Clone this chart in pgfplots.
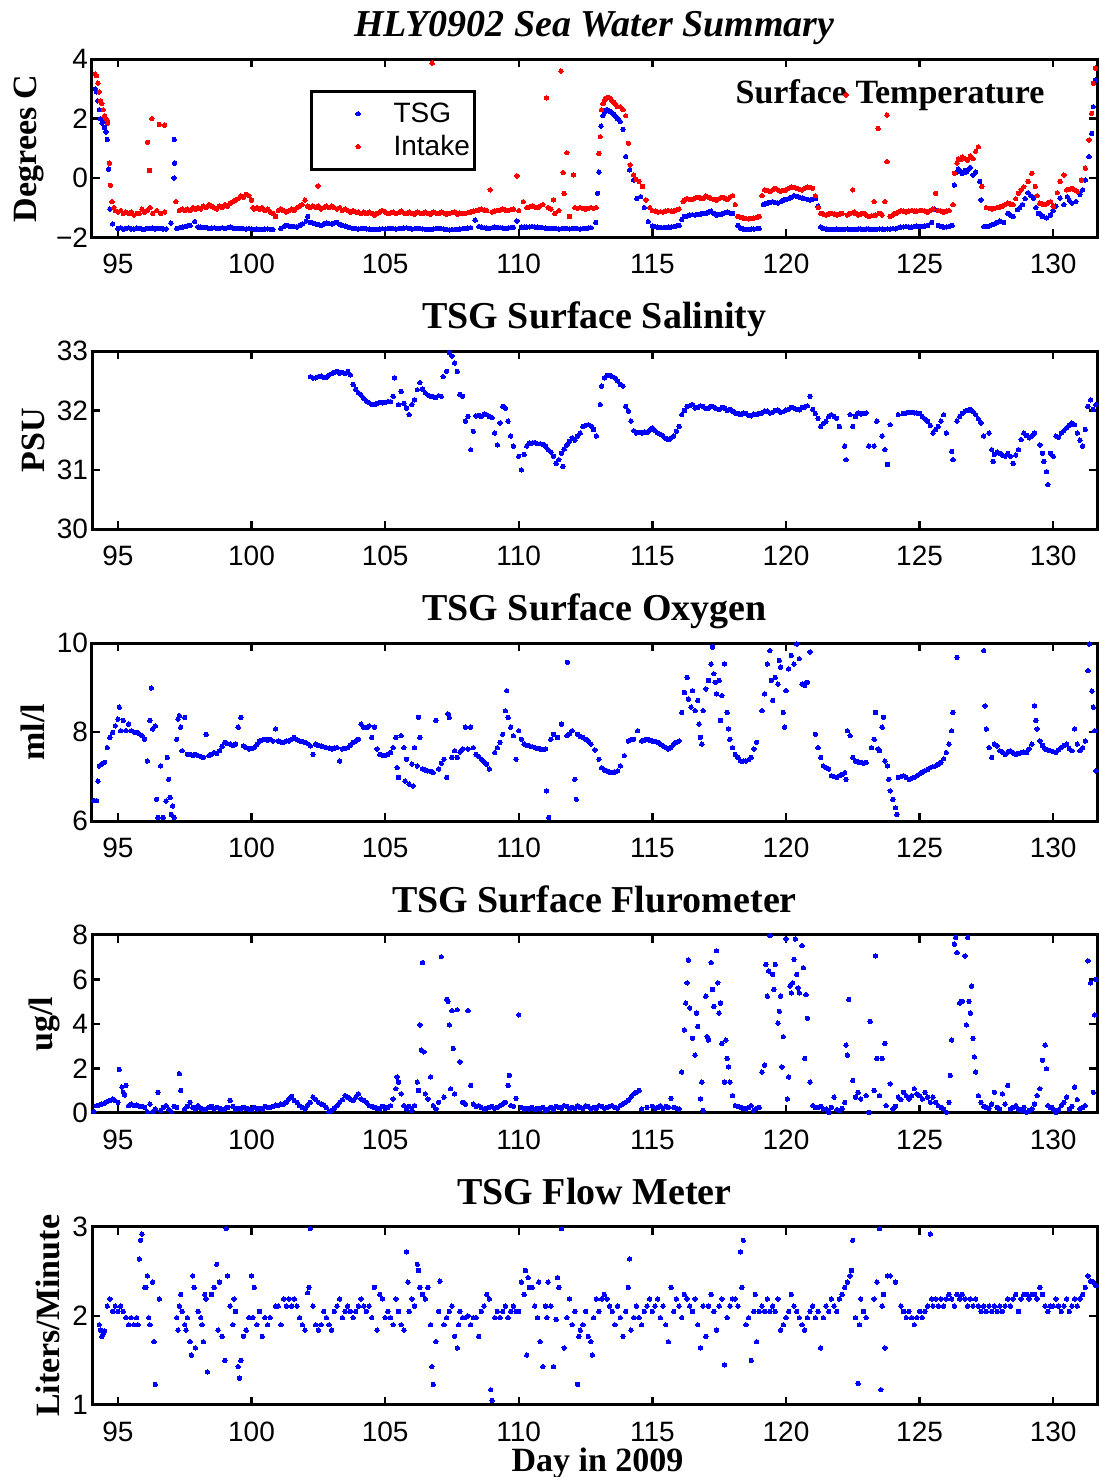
\documentclass[border=0pt]{standalone}
\usepackage{fontspec}
\usepackage{pgfplots}
\pgfplotsset{compat=1.18}
\setmainfont{Liberation Serif}
\newfontfamily\tickfont{Liberation Sans}
\definecolor{tsgblue}{RGB}{0,0,255}
\definecolor{intakered}{RGB}{255,0,0}

\pgfplotsset{
  panel/.style={
    scale only axis, width=502.5pt, height=89pt,
    xmin=94.03, xmax=131.64,
    xtick={95,100,...,130},
    axis line style={line width=1.5pt},
    tick style={black, line width=1.2pt},
    major tick length=4pt,
    tick align=inside,
    ticklabel style={font=\fontsize{14}{16}\selectfont\tickfont},
    /pgf/number format/assume math mode=true,
    xticklabel style={yshift=-5pt},
    yticklabel style={xshift=1.5pt},
    title style={font=\fontsize{19}{22}\selectfont\bfseries, at={(0.5,1)}, anchor=base, yshift=5.3pt},
    ylabel style={font=\fontsize{17}{20}\selectfont\bfseries, inner sep=2.5pt},
  },
  dots/.style={only marks, mark=*, mark size=1.1pt, color=#1, mark options={line width=0pt}},
}

\begin{document}
\begin{tikzpicture}
\useasboundingbox (0,0) rectangle (549.5pt,738.5pt);

% ---------- surface temperature ----------
\begin{axis}[panel, at={(46pt,619.85pt)}, anchor=south west,
  ymin=-2, ymax=4, ytick={-2,0,2,4}, yticklabels={−2,0,2,4},
  title={\itshape HLY0902 Sea Water Summary},
  ylabel={Degrees C},
  legend style={at={(0.217,0.8275)}, anchor=north west, draw=black, line width=1.5pt,
    font=\fontsize{14}{16}\selectfont\tickfont, inner xsep=0pt, inner ysep=3pt,
    nodes={inner sep=2.5pt}, row sep=0pt, column sep=0pt, cells={anchor=west}},
  legend image code/.code={\path (0pt,0pt) (37pt,0pt); \draw[#1, line width=0pt] plot coordinates {(22.5pt,0pt)};},
]
\addplot[dots=tsgblue] coordinates {
(94.15,3.0)(94.2,2.9)(94.25,2.6)(94.3,2.3)(94.35,2.0)(94.4,1.85)(94.45,1.9)(94.5,1.7)(94.55,1.55)(94.6,1.3)(94.65,0.3)(94.7,-1.05)(94.8,-1.55)
(95.0,-1.7)(95.1,-1.68)(95.2,-1.73)(95.3,-1.7)(95.4,-1.68)(95.5,-1.72)(95.6,-1.72)(95.7,-1.69)(95.8,-1.7)(95.9,-1.72)(96.0,-1.73)(96.1,-1.7)(96.2,-1.7)(96.3,-1.69)(96.4,-1.72)(96.5,-1.7)(96.6,-1.7)(96.7,-1.72)(96.8,-1.72)(96.98,-1.52)
(97.11,1.3)(97.12,0.5)(97.1,0.0)
(97.2,-1.7)(97.3,-1.68)(97.4,-1.66)(97.5,-1.64)(97.6,-1.62)(97.7,-1.6)(97.87,-1.47)(98.0,-1.65)(98.1,-1.66)(98.2,-1.68)(98.3,-1.67)(98.4,-1.7)(98.5,-1.69)(98.6,-1.68)(98.7,-1.7)(98.8,-1.7)(98.9,-1.68)(99.0,-1.7)(99.1,-1.68)(99.2,-1.66)(99.3,-1.69)(99.4,-1.7)(99.5,-1.71)(99.6,-1.7)(99.7,-1.71)(99.8,-1.72)
(99.9,-1.71)(100.0,-1.72)(100.1,-1.73)(100.2,-1.72)(100.3,-1.73)(100.4,-1.74)(100.5,-1.72)(100.6,-1.72)(100.7,-1.73)(100.8,-1.74)(101.1,-1.7)(101.2,-1.64)(101.3,-1.6)(101.4,-1.62)(101.5,-1.63)(101.6,-1.64)(101.7,-1.65)(101.8,-1.6)(101.9,-1.55)(102.05,-1.45)(102.1,-1.3)(102.2,-1.5)(102.3,-1.52)(102.4,-1.55)(102.5,-1.57)(102.6,-1.6)(102.7,-1.55)(102.8,-1.52)
(102.9,-1.54)(103.0,-1.55)(103.1,-1.52)(103.2,-1.5)(103.3,-1.56)(103.4,-1.6)(103.5,-1.62)(103.6,-1.65)(103.7,-1.68)(103.8,-1.7)(103.9,-1.71)(104.0,-1.72)(104.1,-1.71)(104.2,-1.7)(104.3,-1.72)(104.4,-1.72)(104.5,-1.73)(104.6,-1.74)(104.7,-1.73)(104.8,-1.72)(104.9,-1.71)(105.0,-1.72)(105.1,-1.71)(105.2,-1.7)(105.3,-1.71)(105.4,-1.72)(105.5,-1.71)(105.6,-1.7)(105.7,-1.69)(105.8,-1.68)
(105.9,-1.7)(106.0,-1.72)(106.1,-1.71)(106.2,-1.7)(106.3,-1.71)(106.4,-1.72)(106.5,-1.73)(106.6,-1.74)(106.7,-1.73)(106.8,-1.72)(106.9,-1.71)(107.0,-1.7)(107.1,-1.71)(107.2,-1.72)(107.3,-1.74)(107.4,-1.75)(107.5,-1.74)(107.6,-1.74)(107.7,-1.73)(107.8,-1.72)(107.9,-1.71)(108.0,-1.7)(108.1,-1.69)(108.2,-1.68)(108.37,-1.42)(108.5,-1.64)(108.6,-1.66)(108.7,-1.68)(108.8,-1.69)(108.9,-1.7)
(109.0,-1.68)(109.1,-1.66)(109.2,-1.67)(109.3,-1.68)(109.4,-1.69)(109.5,-1.7)(109.6,-1.69)(109.7,-1.68)(109.8,-1.67)(109.93,-1.45)(110.1,-1.66)(110.2,-1.65)(110.3,-1.66)(110.4,-1.65)(110.5,-1.64)(110.6,-1.65)(110.7,-1.66)(110.8,-1.67)(110.9,-1.68)(111.0,-1.69)(111.1,-1.7)(111.2,-1.71)(111.3,-1.7)(111.4,-1.71)(111.5,-1.72)(111.6,-1.71)(111.7,-1.7)(111.8,-1.71)(111.9,-1.72)
(112.0,-1.71)(112.1,-1.7)(112.2,-1.71)(112.3,-1.72)(112.4,-1.71)(112.5,-1.7)(112.6,-1.69)(112.7,-1.68)(112.88,-1.5)(112.95,-0.52)(113.0,0.2)(113.08,1.75)(113.15,2.1)(113.2,2.2)(113.25,2.28)(113.3,2.3)(113.35,2.27)(113.4,2.25)(113.45,2.22)(113.5,2.2)(113.55,2.15)(113.6,2.1)(113.65,2.05)(113.7,2.0)(113.75,1.95)(113.8,1.9)(113.9,1.64)
(114.0,0.72)(114.15,0.27)(114.3,-0.07)(114.42,-0.69)(114.56,-0.63)(114.7,-1.0)(114.85,-1.47)(115.0,-1.62)(115.1,-1.64)(115.2,-1.66)(115.3,-1.67)(115.4,-1.68)(115.5,-1.67)(115.6,-1.66)(115.7,-1.65)(115.8,-1.64)(115.9,-1.62)(116.0,-1.6)
(116.1,-1.4)(116.2,-1.3)(116.3,-1.28)(116.4,-1.25)(116.5,-1.24)(116.6,-1.25)(116.7,-1.23)(116.8,-1.22)(116.9,-1.2)(117.0,-1.2)(117.1,-1.15)(117.2,-1.12)(117.3,-1.2)(117.4,-1.25)(117.5,-1.23)(117.6,-1.22)(117.7,-1.18)(117.8,-1.15)(117.9,-1.18)(118.0,-1.2)(118.2,-1.6)(118.3,-1.7)(118.4,-1.72)(118.5,-1.73)(118.6,-1.73)(118.7,-1.72)(118.8,-1.72)(118.9,-1.71)(119.0,-1.7)
(119.15,-0.9)(119.2,-0.88)(119.3,-0.85)(119.4,-0.82)(119.5,-0.8)(119.6,-0.83)(119.7,-0.85)(119.8,-0.8)(119.9,-0.75)(120.0,-0.72)(120.1,-0.7)(120.2,-0.65)(120.3,-0.6)(120.4,-0.62)(120.5,-0.65)(120.6,-0.68)(120.7,-0.7)(120.8,-0.72)(120.9,-0.75)(121.0,-0.72)(121.1,-0.7)(121.2,-0.95)
(121.3,-1.65)(121.4,-1.7)(121.5,-1.72)(121.6,-1.73)(121.7,-1.74)(121.8,-1.73)(121.9,-1.72)(122.0,-1.73)(122.1,-1.74)(122.2,-1.73)(122.3,-1.72)(122.4,-1.73)(122.5,-1.74)(122.6,-1.73)(122.7,-1.72)(122.8,-1.72)(122.9,-1.73)(123.0,-1.72)(123.1,-1.72)(123.2,-1.73)(123.3,-1.74)(123.4,-1.73)(123.5,-1.72)(123.6,-1.72)(123.7,-1.73)(123.8,-1.72)(123.9,-1.72)(124.0,-1.71)(124.1,-1.72)
(124.2,-1.68)(124.3,-1.66)(124.4,-1.65)(124.5,-1.64)(124.6,-1.65)(124.7,-1.66)(124.8,-1.64)(124.9,-1.62)(125.0,-1.63)(125.1,-1.64)(125.2,-1.62)(125.3,-1.6)(125.45,-1.5)(125.55,-1.05)(125.7,-1.6)(125.8,-1.63)(125.9,-1.66)(126.0,-1.65)(126.1,-1.64)(126.22,-1.6)
(126.3,-0.24)(126.4,0.2)(126.45,0.3)(126.55,0.2)(126.6,0.15)(126.7,0.25)(126.75,0.2)(126.85,0.3)(126.9,0.35)(127.0,0.1)(127.1,0.2)(127.25,-0.12)(127.3,-0.74)(127.4,-1.64)(127.5,-1.63)(127.6,-1.62)(127.7,-1.58)(127.8,-1.55)(127.9,-1.5)(128.0,-1.45)(128.15,-1.5)
(128.3,-1.2)(128.4,-1.25)(128.5,-1.3)(128.66,-1.07)(128.75,-1.0)(128.85,-0.9)(128.95,-0.7)(129.06,-0.5)(129.16,-0.6)(129.26,-0.68)(129.35,-1.0)(129.45,-1.2)(129.55,-1.25)(129.6,-1.3)(129.75,-1.35)(129.9,-1.25)(130.0,-1.1)(130.1,-0.95)(130.26,-0.68)(130.4,-0.9)(130.53,-0.63)
(130.6,-0.75)(130.7,-0.85)(130.85,-0.8)(131.0,-0.55)(131.1,-0.4)(131.2,-0.07)(131.34,0.72)(131.44,1.5)(131.5,2.4)(131.58,3.3)
};
\addlegendentry{TSG}
\addplot[dots=intakered] coordinates {
(94.15,3.5)(94.2,3.45)(94.25,3.2)(94.3,2.9)(94.35,2.6)(94.4,2.5)(94.45,2.3)(94.5,2.1)(94.55,2.0)(94.6,1.95)(94.62,1.85)(94.68,0.5)(94.72,-0.25)(94.78,-0.8)(94.85,-1.0)(94.9,-1.1)
(95.0,-1.15)(95.1,-1.1)(95.2,-1.2)(95.3,-1.15)(95.4,-1.2)(95.5,-1.15)(95.6,-1.25)(95.7,-1.2)(95.8,-1.2)(95.9,-1.05)(96.0,-1.15)(96.1,-1.1)(96.2,-1.0)(96.3,-1.2)(96.45,-1.1)(96.6,-1.2)(96.75,-1.15)
(96.11,1.2)(96.18,0.25)(96.27,2.0)(96.55,1.8)(96.75,1.78)
(97.17,-0.8)(97.3,-1.1)(97.4,-1.05)(97.5,-1.1)(97.6,-1.05)(97.7,-1.1)(97.8,-1.0)(97.9,-1.05)(98.0,-1.0)(98.1,-1.05)(98.2,-0.95)(98.3,-1.0)(98.4,-0.9)(98.5,-0.95)(98.6,-1.0)(98.7,-1.05)(98.8,-0.95)(98.9,-1.0)
(99.0,-0.9)(99.1,-0.95)(99.2,-0.85)(99.3,-0.8)(99.4,-0.75)(99.5,-0.7)(99.6,-0.6)(99.7,-0.65)(99.8,-0.55)(99.9,-0.6)(100.0,-0.75)(100.05,-1.0)(100.1,-1.05)(100.2,-1.0)(100.3,-1.05)(100.4,-1.0)
(100.5,-1.1)(100.6,-1.05)(100.7,-1.15)(100.8,-1.2)(100.9,-1.3)(101.0,-1.1)(101.1,-1.05)(101.2,-1.1)(101.3,-1.15)(101.4,-1.1)(101.5,-1.05)(101.6,-1.1)(101.7,-1.0)(101.8,-0.95)(101.9,-0.9)
(102.0,-0.75)(102.1,-0.95)(102.2,-1.0)(102.3,-0.95)(102.4,-1.0)(102.5,-0.95)(102.49,-0.27)(102.6,-1.05)(102.7,-1.0)(102.8,-0.95)(102.9,-1.0)(103.0,-0.95)(103.1,-1.0)(103.2,-1.05)(103.3,-1.0)
(103.4,-1.1)(103.5,-1.05)(103.6,-1.1)(103.7,-1.15)(103.8,-1.1)(103.9,-1.15)(104.0,-1.15)(104.1,-1.2)(104.2,-1.15)(104.3,-1.2)(104.4,-1.15)(104.5,-1.2)(104.6,-1.25)(104.7,-1.2)(104.8,-1.15)(104.9,-1.1)
(105.0,-1.15)(105.1,-1.2)(105.2,-1.18)(105.3,-1.15)(105.4,-1.2)(105.5,-1.17)(105.6,-1.12)(105.7,-1.18)(105.8,-1.2)(105.9,-1.15)(106.0,-1.2)(106.1,-1.22)(106.2,-1.15)(106.3,-1.18)(106.4,-1.2)(106.5,-1.15)(106.6,-1.2)(106.7,-1.22)(106.76,3.87)(106.8,-1.15)(106.9,-1.18)(107.0,-1.2)
(107.1,-1.15)(107.2,-1.18)(107.3,-1.22)(107.4,-1.2)(107.5,-1.17)(107.6,-1.15)(107.7,-1.22)(107.8,-1.18)(107.9,-1.2)(108.0,-1.2)(108.1,-1.17)(108.2,-1.15)(108.3,-1.12)(108.4,-1.1)(108.5,-1.08)(108.6,-1.05)(108.7,-1.08)(108.8,-1.1)(108.93,-0.4)(109.0,-1.15)(109.1,-1.12)(109.2,-1.1)(109.3,-1.08)(109.4,-1.05)
(109.5,-1.08)(109.6,-1.1)(109.7,-1.07)(109.8,-1.05)(109.93,0.07)(110.0,-1.1)(110.17,-0.8)(110.3,-1.0)(110.4,-0.98)(110.5,-0.95)(110.6,-0.98)(110.7,-1.0)(110.8,-0.95)(110.9,-0.9)(111.04,2.7)(111.1,-1.0)(111.2,-1.05)(111.3,-0.74)(111.35,-1.2)(111.5,-1.1)(111.58,3.6)
(111.66,0.18)(111.7,-0.52)(111.8,0.85)(111.9,-1.3)(112.05,0.1)(112.1,-1.0)(112.2,-1.02)(112.3,-1.0)(112.4,-1.03)(112.5,-1.05)(112.6,-1.02)(112.7,-1.0)(112.8,-1.02)(112.9,-1.0)(113.0,0.83)(113.05,1.39)(113.1,2.3)(113.15,2.5)(113.2,2.6)(113.25,2.68)(113.3,2.7)(113.35,2.72)(113.4,2.7)
(113.45,2.65)(113.5,2.6)(113.55,2.55)(113.6,2.5)(113.65,2.45)(113.7,2.4)(113.8,2.4)(113.9,2.3)(114.0,2.1)(114.1,1.17)(114.17,0.44)(114.3,0.1)(114.4,-0.05)(114.5,-0.12)(114.63,-0.29)(114.76,-0.74)(114.9,-1.0)
(115.0,-1.1)(115.1,-1.12)(115.2,-1.15)(115.3,-1.14)(115.4,-1.15)(115.5,-1.12)(115.6,-1.1)(115.7,-1.11)(115.8,-1.12)(115.9,-1.08)(116.0,-1.05)(116.15,-0.8)(116.2,-0.75)(116.3,-0.7)(116.4,-0.72)(116.5,-0.72)(116.6,-0.68)(116.7,-0.65)(116.8,-0.68)(116.9,-0.7)(117.0,-0.6)(117.1,-0.65)(117.2,-0.7)(117.3,-0.72)(117.4,-0.75)(117.5,-0.7)(117.6,-0.65)
(117.7,-0.68)(117.8,-0.72)(117.9,-0.65)(118.0,-0.6)(118.1,-0.9)(118.2,-1.3)(118.3,-1.33)(118.4,-1.35)(118.5,-1.37)(118.6,-1.38)(118.7,-1.36)(118.8,-1.35)(118.9,-1.33)(119.0,-1.3)(119.1,-0.6)(119.2,-0.4)(119.3,-0.42)(119.4,-0.45)(119.5,-0.4)(119.6,-0.35)(119.7,-0.4)(119.8,-0.45)(119.9,-0.42)(120.0,-0.4)(120.1,-0.35)(120.2,-0.3)
(120.3,-0.32)(120.4,-0.35)(120.5,-0.38)(120.6,-0.4)(120.7,-0.35)(120.8,-0.3)(120.9,-0.32)(121.0,-0.35)(121.1,-0.6)(121.2,-1.0)(121.3,-1.2)(121.4,-1.22)(121.5,-1.25)(121.6,-1.22)(121.7,-1.2)(121.8,-1.22)(121.9,-1.25)(122.0,-1.22)(122.1,-1.2)(122.25,2.8)(122.3,-1.25)(122.4,-1.2)(122.5,-0.4)(122.55,-1.15)
(122.6,-1.2)(122.7,-1.25)(122.8,-1.22)(122.9,-1.2)(123.0,-1.25)(123.1,-1.3)(123.2,-1.27)(123.3,-0.8)(123.35,-1.25)(123.45,1.67)(123.5,-1.2)(123.6,-1.25)(123.7,-0.8)(123.78,2.12)(123.78,0.55)(123.9,-1.3)(124.0,-1.25)(124.1,-1.2)(124.2,-1.15)(124.3,-1.1)(124.4,-1.12)(124.5,-1.15)(124.6,-1.12)(124.7,-1.1)
(124.8,-1.12)(124.9,-1.12)(125.0,-1.1)(125.1,-1.1)(125.2,-1.12)(125.3,-1.15)(125.4,-1.1)(125.5,-1.05)(125.6,-0.52)(125.7,-1.1)(125.8,-1.12)(125.9,-1.15)(126.0,-1.12)(126.1,-1.1)(126.25,-0.9)(126.3,0.16)(126.4,0.5)(126.45,0.65)(126.55,0.62)(126.6,0.7)(126.7,0.65)(126.8,0.6)(126.9,0.75)(127.0,0.65)
(127.1,0.9)(127.2,1.05)(127.33,-0.29)(127.5,-1.0)(127.6,-1.02)(127.7,-1.05)(127.8,-1.02)(127.9,-1.0)(128.0,-0.98)(128.1,-0.95)(128.2,-0.9)(128.3,-0.85)(128.4,-0.88)(128.5,-0.9)(128.6,-0.7)(128.7,-0.52)(128.8,-0.4)(128.9,-0.3)(129.06,-0.12)(129.2,0.16)(129.33,-0.29)(129.4,-0.6)(129.5,-0.85)
(129.6,-0.88)(129.7,-0.9)(129.8,-0.85)(129.9,-0.8)(130.0,-0.95)(130.15,-0.5)(130.26,-0.12)(130.4,0.1)(130.5,-0.4)(130.6,-0.38)(130.7,-0.35)(130.8,-0.4)(130.9,-0.45)(131.06,-0.07)(131.2,0.33)(131.34,1.28)(131.44,2.18)(131.5,3.19)(131.58,3.7)
};
\addlegendentry{Intake}
\node[font=\fontsize{17}{20}\selectfont\bfseries, anchor=base] at (rel axis cs:0.794,0.753) {Surface Temperature};
\end{axis}

% ---------- salinity ----------
\begin{axis}[panel, at={(46pt,473.9pt)}, anchor=south west,
  ymin=30, ymax=33, ytick={30,31,32,33},
  title={TSG Surface Salinity}, ylabel={PSU}]
\addplot[dots=tsgblue] coordinates {
(102.2,32.57)(102.3,32.55)(102.4,32.55)(102.5,32.57)(102.6,32.58)(102.7,32.56)(102.8,32.56)(102.9,32.6)(103.0,32.62)(103.1,32.64)(103.2,32.66)(103.3,32.63)(103.4,32.64)(103.5,32.62)(103.6,32.66)(103.7,32.6)
(103.8,32.44)(103.9,32.36)(104.0,32.3)(104.1,32.26)(104.2,32.2)(104.3,32.16)(104.4,32.13)(104.5,32.1)(104.6,32.1)(104.7,32.12)(104.8,32.14)(104.9,32.13)(105.0,32.14)(105.1,32.15)(105.2,32.15)
(105.3,32.24)(105.35,32.55)(105.5,32.1)(105.6,32.32)(105.7,32.12)(105.8,32.04)(105.9,31.93)(106.0,32.1)(106.1,32.18)(106.2,32.35)(106.3,32.47)(106.4,32.36)(106.5,32.3)(106.6,32.26)(106.7,32.24)
(106.8,32.23)(106.9,32.22)(107.0,32.25)(107.1,32.24)(107.17,32.57)(107.3,32.66)(107.4,32.98)(107.5,32.92)(107.6,32.8)(107.7,32.66)(107.8,32.27)(107.9,32.24)(108.0,31.82)(108.1,31.9)
(108.2,31.34)(108.3,31.65)(108.4,31.91)(108.5,31.92)(108.6,31.9)(108.7,31.94)(108.8,31.93)(108.9,31.9)(109.0,31.88)(109.1,31.62)(109.2,31.42)(109.3,31.79)(109.4,32.07)(109.5,32.04)
(109.6,31.82)(109.7,31.57)(109.8,31.4)(110.0,31.23)(110.1,31.0)(110.2,31.26)(110.3,31.4)(110.4,31.45)(110.5,31.45)(110.6,31.46)(110.7,31.44)(110.8,31.44)(110.9,31.43)(111.0,31.4)
(111.1,31.34)(111.2,31.3)(111.3,31.23)(111.4,31.11)(111.5,31.17)(111.6,31.28)(111.65,31.06)(111.7,31.35)(111.8,31.42)(111.9,31.48)(112.0,31.54)(112.1,31.5)(112.2,31.57)(112.3,31.62)
(112.4,31.73)(112.5,31.75)(112.6,31.76)(112.7,31.74)(112.8,31.68)(112.9,31.57)(113.05,32.1)(113.1,32.41)(113.2,32.55)(113.3,32.59)(113.4,32.59)(113.5,32.57)(113.6,32.55)(113.7,32.5)
(113.8,32.44)(113.9,32.41)(114.0,32.07)(114.1,31.99)(114.2,31.82)(114.3,31.66)(114.4,31.62)(114.5,31.63)(114.6,31.62)(114.7,31.64)(114.8,31.63)(114.9,31.67)(115.0,31.71)(115.1,31.66)
(115.2,31.62)(115.3,31.6)(115.4,31.57)(115.5,31.53)(115.6,31.51)(115.7,31.54)(115.8,31.57)(115.9,31.65)(116.0,31.73)(116.1,31.93)(116.2,32.0)(116.3,32.07)(116.4,32.08)(116.5,32.1)
(116.6,32.04)(116.7,32.05)(116.8,32.08)(116.9,32.07)(117.0,32.03)(117.1,32.04)(117.2,32.07)(117.3,32.06)(117.4,32.03)(117.5,32.02)(117.6,32.05)(117.7,32.04)(117.8,32.0)(117.9,32.02)
(118.0,31.99)(118.1,31.96)(118.2,31.95)(118.3,31.93)(118.4,31.96)(118.5,31.95)(118.6,31.92)(118.7,31.91)(118.8,31.94)(118.9,31.93)(119.0,31.95)(119.1,31.96)(119.2,31.99)(119.3,31.99)
(119.4,31.96)(119.5,31.97)(119.6,32.0)(119.7,32.01)(119.8,31.97)(119.9,31.98)(120.0,32.01)(120.1,32.02)(120.2,32.05)(120.3,32.04)(120.4,32.02)(120.5,32.01)(120.6,32.05)(120.7,32.06)
(120.8,32.08)(120.9,32.24)(121.0,32.02)(121.1,31.95)(121.2,31.87)(121.3,31.73)(121.4,31.78)(121.5,31.82)(121.6,31.9)(121.7,31.93)(121.8,31.9)(121.9,31.87)(122.0,31.73)(122.2,31.4)
(122.25,31.17)(122.4,31.93)(122.5,31.73)(122.6,31.9)(122.7,31.96)(122.8,31.94)(122.9,31.95)(123.0,31.96)(123.1,31.4)(123.3,31.4)(123.4,31.82)(123.6,31.57)(123.7,31.34)(123.8,31.09)
(123.9,31.76)(124.2,31.93)(124.4,31.95)(124.5,31.96)(124.6,31.97)(124.7,31.97)(124.8,31.96)(124.9,31.96)(125.0,31.95)(125.1,31.9)(125.2,31.86)(125.3,31.82)(125.4,31.75)(125.5,31.62)
(125.6,31.68)(125.7,31.73)(125.8,31.82)(125.9,31.93)(126.0,31.62)(126.2,31.31)(126.25,31.17)(126.4,31.82)(126.5,31.9)(126.6,31.95)(126.7,31.99)(126.8,32.0)(126.9,32.02)(127.0,31.98)
(127.1,31.93)(127.2,31.86)(127.3,31.79)(127.4,31.57)(127.6,31.62)(127.7,31.34)(127.75,31.14)(127.8,31.26)(127.9,31.3)(128.0,31.28)(128.1,31.25)(128.2,31.23)(128.3,31.28)(128.4,31.23)
(128.5,31.11)(128.6,31.25)(128.7,31.34)(128.8,31.51)(128.9,31.62)(129.0,31.58)(129.1,31.54)(129.2,31.57)(129.3,31.62)(129.5,31.42)(129.6,31.28)(129.65,31.14)(129.75,30.97)(129.8,30.75)
(129.9,31.28)(130.0,31.23)(130.1,31.57)(130.2,31.55)(130.3,31.62)(130.4,31.66)(130.5,31.71)(130.6,31.75)(130.7,31.79)(130.8,31.76)(130.9,31.62)(131.0,31.5)(131.1,31.4)(131.2,31.68)
(131.3,32.07)(131.4,32.18)(131.5,32.02)(131.6,32.1)
};
\end{axis}

% ---------- oxygen ----------
\begin{axis}[panel, at={(46pt,327.95pt)}, anchor=south west,
  ymin=6, ymax=10, ytick={6,8,10},
  title={TSG Surface Oxygen}, ylabel={ml/l}]
\addplot[dots=tsgblue] coordinates {
(94.1,6.46)(94.2,6.46)(94.25,6.9)(94.3,7.24)(94.4,7.28)(94.5,7.32)(94.6,7.65)(94.7,7.88)(94.8,7.99)(94.9,8.14)(95.0,8.29)(95.05,8.56)(95.1,8.03)(95.2,8.26)(95.3,8.03)(95.4,8.18)
(95.5,8.03)(95.6,8.0)(95.7,7.99)(95.8,7.96)(95.9,7.92)(96.0,7.84)(96.1,7.35)(96.2,8.26)(96.25,8.99)(96.3,8.07)(96.4,8.14)(96.45,6.49)(96.5,6.08)(96.6,7.24)(96.7,6.08)(96.8,6.45)
(96.85,7.43)(96.9,6.94)(96.95,6.53)(97.0,6.15)(97.05,6.34)(97.1,6.08)(97.2,7.84)(97.25,8.29)(97.3,8.37)(97.35,8.11)(97.5,8.33)(97.4,7.58)(97.6,7.5)(97.7,7.5)(97.8,7.47)(97.9,7.5)
(98.0,7.47)(98.1,7.45)(98.2,7.43)(98.3,7.95)(98.4,7.47)(98.5,7.5)(98.6,7.54)(98.7,7.52)(98.8,7.58)(98.9,7.68)(99.0,7.77)(99.1,7.74)(99.2,7.73)(99.3,7.7)(99.4,7.73)(99.5,8.11)
(99.6,8.33)(99.7,7.69)(99.8,7.65)(99.9,7.62)(100.0,7.63)(100.1,7.65)(100.2,7.72)(100.3,7.8)(100.4,7.82)(100.5,7.84)(100.6,7.82)(100.7,7.84)(100.8,7.8)(100.9,8.07)(101.0,7.8)
(101.1,7.78)(101.2,7.77)(101.3,7.8)(101.4,7.8)(101.5,7.84)(101.6,7.88)(101.7,7.83)(101.8,7.8)(101.9,7.79)(102.0,7.77)(102.1,7.74)(102.2,7.69)(102.3,7.5)(102.4,7.73)(102.5,7.7)
(102.6,7.69)(102.7,7.67)(102.8,7.65)(102.9,7.64)(103.0,7.62)(103.1,7.64)(103.2,7.65)(103.3,7.35)(103.4,7.62)(103.5,7.63)(103.6,7.65)(103.7,7.7)(103.8,7.77)(103.9,7.8)(104.0,7.84)
(104.1,8.18)(104.2,8.11)(104.3,8.1)(104.4,8.14)(104.5,7.88)(104.6,8.11)(104.7,7.62)(104.8,7.5)(104.9,7.48)(105.0,7.47)(105.1,7.5)(105.2,7.54)(105.3,7.65)(105.4,7.88)(105.45,7.2)
(105.5,6.98)(105.6,7.92)(105.7,7.65)(105.75,6.9)(105.8,7.39)(105.9,6.83)(106.0,7.28)(106.05,6.79)(106.1,7.65)(106.2,7.24)(106.25,8.33)(106.3,7.88)(106.4,7.17)(106.5,7.15)(106.6,7.13)
(106.7,7.12)(106.8,7.09)(106.9,8.26)(107.0,7.17)(107.1,7.3)(107.2,7.39)(107.3,6.98)(107.35,8.41)(107.4,8.33)(107.5,7.43)(107.6,7.58)(107.7,7.43)(107.8,7.55)(107.9,7.62)(108.0,8.11)
(108.1,7.62)(108.2,8.11)(108.3,7.65)(108.4,7.5)(108.5,7.45)(108.6,7.39)(108.7,7.33)(108.8,7.28)(108.9,7.17)(109.1,7.54)(109.2,7.65)(109.3,7.77)(109.4,7.95)(109.5,8.48)(109.55,8.93)
(109.6,8.33)(109.7,8.11)(109.8,7.92)(109.9,7.39)(110.0,8.03)(110.1,7.84)(110.2,7.73)(110.3,7.7)(110.4,7.69)(110.5,7.67)(110.6,7.65)(110.7,7.63)(110.8,7.62)(110.9,7.61)(111.0,7.62)
(111.04,6.68)(111.12,6.08)(111.2,7.84)(111.3,7.95)(111.45,7.88)(111.6,8.18)(111.82,9.57)(111.8,7.92)(111.9,7.96)(112.0,8.03)(112.1,6.94)(112.15,6.49)(112.2,7.95)(112.3,7.9)(112.4,7.88)
(112.5,7.84)(112.6,7.8)(112.7,7.73)(112.85,7.6)(113.0,7.39)(113.1,7.2)(113.2,7.15)(113.3,7.13)(113.4,7.1)(113.5,7.09)(113.6,7.1)(113.7,7.13)(113.8,7.24)(113.95,7.47)(114.1,7.8)
(114.2,7.83)(114.3,7.84)(114.45,8.03)(114.6,7.8)(114.7,7.82)(114.8,7.84)(114.9,7.82)(115.0,7.8)(115.1,7.79)(115.2,7.77)(115.3,7.73)(115.4,7.69)(115.5,7.65)(115.6,7.62)(115.7,7.66)
(115.8,7.73)(115.9,7.77)(116.0,7.8)(116.1,8.44)(116.2,8.89)(116.3,9.23)(116.35,8.74)(116.45,8.56)(116.5,8.93)(116.6,8.48)(116.7,8.71)(116.75,8.18)(116.8,7.88)(116.85,7.73)(116.9,8.48)
(117.0,8.97)(117.1,9.16)(117.2,9.53)(117.25,9.91)(117.3,9.31)(117.35,9.12)(117.4,8.86)(117.5,9.16)(117.55,8.26)(117.6,8.82)(117.7,9.53)(117.8,8.44)(117.85,8.07)(117.9,7.84)(118.0,7.65)
(118.1,7.5)(118.2,7.43)(118.3,7.35)(118.4,7.35)(118.5,7.35)(118.6,7.38)(118.7,7.43)(118.8,7.62)(118.9,7.77)(119.1,8.48)(119.2,8.86)(119.3,9.53)(119.4,9.83)(119.45,9.16)(119.5,8.71)
(119.6,9.23)(119.7,9.08)(119.75,9.61)(119.8,9.46)(119.9,8.44)(119.95,8.11)(120.0,8.93)(120.1,9.42)(120.2,9.72)(120.3,9.53)(120.4,9.98)(120.5,9.65)(120.6,9.08)(120.7,9.05)(120.75,9.1)
(120.8,9.12)(120.9,9.8)(121.1,7.95)(121.2,7.65)(121.3,7.43)(121.4,7.24)(121.5,7.2)(121.6,7.17)(121.7,7.02)(121.8,7.0)(121.9,6.98)(122.0,7.02)(122.1,7.05)(122.2,7.09)(122.25,6.94)
(122.3,8.03)(122.4,7.92)(122.5,7.43)(122.6,7.35)(122.7,7.33)(122.8,7.32)(122.9,7.3)(123.0,7.32)(123.2,7.65)(123.3,7.84)(123.35,8.44)(123.45,7.62)(123.5,7.58)(123.6,8.11)(123.65,8.33)
(123.7,7.35)(123.8,7.24)(123.85,6.94)(123.9,6.68)(124.0,6.49)(124.1,6.3)(124.15,6.15)(124.2,6.98)(124.3,7.0)(124.4,7.02)(124.5,6.98)(124.6,6.94)(124.7,6.96)(124.8,6.98)(124.9,7.02)
(125.0,7.06)(125.1,7.1)(125.2,7.13)(125.3,7.16)(125.4,7.2)(125.5,7.22)(125.6,7.24)(125.7,7.28)(125.8,7.32)(125.9,7.4)(126.0,7.54)(126.1,7.73)(126.2,8.03)(126.25,8.44)(126.4,9.68)
(127.4,9.83)(127.45,8.59)(127.5,8.07)(127.6,7.65)(127.7,7.43)(127.8,7.73)(127.9,7.69)(128.0,7.58)(128.1,7.55)(128.2,7.5)(128.3,7.55)(128.4,7.58)(128.5,7.53)(128.6,7.5)(128.7,7.52)
(128.8,7.54)(128.9,7.55)(129.0,7.54)(129.1,7.62)(129.2,7.73)(129.3,8.59)(129.35,8.26)(129.4,8.07)(129.5,7.8)(129.6,7.7)(129.7,7.62)(129.8,7.6)(129.9,7.58)(130.0,7.56)(130.1,7.54)
(130.2,7.6)(130.3,7.65)(130.4,7.7)(130.5,7.73)(130.6,7.63)(130.7,7.58)(130.8,8.07)(130.9,7.73)(131.0,7.58)(131.1,7.65)(131.2,7.8)(131.3,9.38)(131.35,9.98)(131.45,8.92)(131.5,8.56)
(131.55,8.03)(131.6,7.13)
};
\end{axis}

% ---------- fluorometer ----------
\begin{axis}[panel, at={(46pt,182pt)}, anchor=south west,
  ymin=0, ymax=8, ytick={0,2,4,6,8},
  title={TSG Surface Flurometer}, ylabel={ug/l}]
\addplot[dots=tsgblue] coordinates {
(94.1,0.06)(94.2,0.33)(94.3,0.36)(94.4,0.4)(94.5,0.45)(94.6,0.51)(94.7,0.56)(94.8,0.63)(94.9,0.55)(95.0,0.48)(95.05,1.96)(95.15,1.16)(95.2,0.93)(95.25,0.81)(95.3,1.24)(95.4,0.33)
(95.5,0.4)(95.6,0.33)(95.7,0.36)(95.8,0.3)(95.9,0.3)(96.0,0.25)(96.1,0.06)(96.2,0.4)(96.3,0.06)(96.4,0.18)(96.5,0.93)(96.6,0.11)(96.7,0.25)(96.8,0.33)(96.9,0.15)(97.0,0.06)(97.1,0.3)
(97.2,0.25)(97.3,1.77)(97.35,1.01)(97.5,0.18)(97.6,0.3)(97.7,0.48)(97.8,0.25)(97.9,0.18)(98.0,0.33)(98.1,0.21)(98.2,0.15)(98.3,0.18)(98.4,0.25)(98.5,0.3)(98.6,0.18)(98.7,0.25)
(98.8,0.21)(98.9,0.15)(99.0,0.18)(99.1,0.25)(99.2,0.56)(99.3,0.3)(99.4,0.15)(99.5,0.21)(99.6,0.18)(99.7,0.25)(99.8,0.21)(99.9,0.18)(100.0,0.15)(100.1,0.25)(100.2,0.18)(100.3,0.21)
(100.4,0.18)(100.5,0.3)(100.6,0.25)(100.7,0.25)(100.8,0.3)(100.9,0.36)(101.0,0.33)(101.1,0.4)(101.2,0.4)(101.3,0.48)(101.4,0.63)(101.5,0.75)(101.6,0.56)(101.7,0.48)(101.8,0.33)
(101.9,0.25)(102.0,0.18)(102.1,0.36)(102.2,0.48)(102.3,0.71)(102.4,0.6)(102.5,0.48)(102.6,0.4)(102.7,0.36)(102.8,0.25)(102.9,0.06)(103.0,0.11)(103.1,0.21)(103.2,0.33)(103.3,0.48)
(103.4,0.6)(103.5,0.78)(103.6,0.71)(103.7,0.63)(103.8,0.56)(103.9,0.71)(104.0,0.86)(104.1,0.63)(104.2,0.56)(104.3,0.48)(104.4,0.33)(104.5,0.3)(104.6,0.25)(104.7,0.21)(104.8,0.18)
(104.9,0.3)(105.0,0.21)(105.1,0.25)(105.2,0.33)(105.3,0.63)(105.4,1.09)(105.45,1.62)(105.5,1.39)(105.6,0.86)(105.7,0.33)(105.8,0.18)(105.9,0.3)(106.0,0.11)(106.1,0.33)(106.2,1.39)
(106.25,1.01)(106.3,3.96)(106.35,2.83)(106.4,6.76)(106.45,2.75)(106.5,0.86)(106.6,0.63)(106.7,1.62)(106.8,0.33)(106.9,0.18)(107.0,0.48)(107.1,7.02)(107.2,0.71)(107.3,5.1)(107.35,5.02)
(107.4,3.96)(107.45,1.09)(107.5,4.6)(107.55,2.9)(107.6,0.86)(107.7,4.64)(107.8,2.3)(107.9,0.48)(108.0,0.4)(108.1,4.6)(108.2,1.24)(108.3,0.4)(108.4,0.3)(108.5,0.33)(108.6,0.25)
(108.7,0.18)(108.8,0.21)(108.9,0.25)(109.0,0.3)(109.1,0.21)(109.2,0.25)(109.3,0.33)(109.4,0.4)(109.5,0.48)(109.6,1.24)(109.65,1.69)(109.7,0.33)(109.8,0.3)(109.9,0.66)(110.0,4.41)
(110.1,0.25)(110.2,0.18)(110.3,0.21)(110.4,0.18)(110.5,0.25)(110.6,0.15)(110.7,0.21)(110.8,0.18)(110.9,0.25)(111.0,0.11)(111.1,0.18)(111.2,0.25)(111.3,0.15)(111.4,0.3)(111.5,0.25)
(111.6,0.21)(111.7,0.33)(111.8,0.3)(111.9,0.18)(112.0,0.25)(112.1,0.21)(112.2,0.33)(112.3,0.25)(112.4,0.21)(112.5,0.33)(112.6,0.3)(112.7,0.18)(112.8,0.25)(112.9,0.21)(113.0,0.33)
(113.1,0.3)(113.2,0.21)(113.3,0.25)(113.4,0.3)(113.5,0.33)(113.6,0.25)(113.7,0.21)(113.8,0.33)(113.9,0.4)(114.0,0.48)(114.1,0.56)(114.2,0.71)(114.3,0.86)(114.4,0.93)(114.5,1.01)
(114.6,0.18)(114.8,0.25)(115.0,0.3)(115.1,0.21)(115.2,0.25)(115.3,0.33)(115.4,0.21)(115.5,0.3)(115.6,0.25)(115.7,0.66)(115.8,0.25)(115.9,0.21)(116.0,0.18)(116.1,1.84)(116.2,3.73)
(116.25,4.94)(116.3,5.85)(116.35,6.87)(116.4,4.72)(116.5,3.36)(116.6,2.6)(116.65,4.49)(116.7,3.89)(116.8,0.63)(116.85,1.39)(116.9,0.11)(117.0,5.25)(117.05,3.43)(117.1,3.28)
(117.2,6.76)(117.25,5.55)(117.3,4.79)(117.4,7.29)(117.45,5.85)(117.5,4.49)(117.55,4.94)(117.6,3.13)(117.7,1.39)(117.75,3.28)(117.8,2.45)(117.85,2.07)(117.9,1.39)(118.0,0.78)
(118.1,0.33)(118.2,0.3)(118.3,0.25)(118.4,0.21)(118.5,0.18)(118.6,0.25)(118.7,0.33)(118.8,0.11)(118.9,0.21)(119.0,0.25)(119.1,1.84)(119.2,2.15)(119.25,6.68)(119.3,5.25)(119.35,6.38)
(119.4,7.97)(119.5,6.23)(119.55,5.55)(119.6,6.68)(119.7,4.04)(119.75,4.57)(119.8,5.25)(119.85,2.07)(119.9,3.43)(120.0,7.82)(120.05,0.63)(120.1,1.62)(120.15,5.7)(120.2,5.4)
(120.25,5.85)(120.3,6.91)(120.35,7.82)(120.4,6.23)(120.45,5.62)(120.5,5.4)(120.6,7.52)(120.65,6.53)(120.7,2.45)(120.75,5.32)(120.8,4.26)(120.9,1.39)(121.0,0.33)(121.1,0.25)
(121.2,0.25)(121.3,0.3)(121.4,0.18)(121.5,0.18)(121.6,0.03)(121.7,0.25)(121.8,0.71)(121.9,0.15)(122.0,0.11)(122.1,0.21)(122.2,0.48)(122.25,3.05)(122.3,2.6)(122.35,5.1)(122.5,1.46)
(122.6,0.71)(122.7,0.93)(122.8,0.63)(123.0,0.78)(123.1,0.03)(123.15,4.11)(123.3,1.01)(123.35,7.06)(123.4,2.45)(123.5,0.78)(123.6,2.45)(123.7,3.13)(123.75,0.33)(123.9,1.31)
(124.0,0.18)(124.1,0.3)(124.2,0.71)(124.3,0.6)(124.4,0.93)(124.5,0.78)(124.6,0.63)(124.7,0.78)(124.8,1.09)(124.9,0.86)(125.0,0.78)(125.1,0.63)(125.2,0.93)(125.3,0.71)(125.4,0.48)
(125.5,0.71)(125.6,0.48)(125.7,0.33)(125.8,0.25)(125.9,0.18)(126.0,0.03)(126.1,0.48)(126.15,1.69)(126.2,3.28)(126.3,7.59)(126.35,7.89)(126.4,7.21)(126.5,4.94)(126.55,5.02)
(126.6,5.02)(126.7,7.06)(126.75,3.96)(126.8,7.89)(126.85,5.02)(126.9,4.49)(126.95,5.7)(127.0,3.36)(127.05,2.52)(127.1,1.84)(127.2,0.78)(127.3,0.48)(127.4,0.3)(127.5,0.25)
(127.6,0.21)(127.7,0.4)(127.8,0.93)(127.9,0.25)(128.0,0.18)(128.1,0.86)(128.2,0.4)(128.3,1.24)(128.4,0.18)(128.5,0.25)(128.6,0.33)(128.7,0.18)(128.8,0.11)(128.9,0.25)(129.0,0.03)
(129.1,0.11)(129.2,0.18)(129.3,0.4)(129.4,0.78)(129.5,1.09)(129.6,2.37)(129.7,3.05)(129.75,1.99)(129.8,0.33)(129.9,0.25)(130.0,0.18)(130.1,0.03)(130.2,0.15)(130.3,0.33)(130.4,0.48)
(130.5,0.71)(130.6,0.18)(130.7,0.3)(130.8,1.16)(130.9,0.6)(131.0,0.18)(131.1,0.25)(131.2,0.33)(131.3,6.84)(131.4,5.85)(131.5,0.93)(131.55,4.41)(131.6,6.0)
};
\end{axis}

% ---------- flow meter ----------
\begin{axis}[panel, at={(46pt,36.05pt)}, anchor=south west,
  ymin=1, ymax=3, ytick={1,2,3},
  title={TSG Flow Meter}, ylabel={Liters/Minute},
  xlabel={Day in 2009},
  xlabel style={font=\fontsize{17}{20}\selectfont\bfseries, at={(axis description cs:0.503,0)}, anchor=base, yshift=-33.4pt}]
\addplot[dots=tsgblue] coordinates {
(94.3,1.9)(94.35,1.84)(94.4,1.77)(94.45,1.8)(94.5,1.83)(94.6,2.11)(94.7,2.19)(94.8,2.05)(94.9,2.11)(95.0,2.05)(95.1,2.11)(95.2,2.05)(95.3,1.98)(95.4,1.9)(95.5,1.98)(95.6,1.9)
(95.7,1.98)(95.75,1.9)(95.8,2.64)(95.85,2.85)(95.9,2.92)(96.0,2.32)(96.05,2.32)(96.1,2.45)(96.15,1.98)(96.2,1.9)(96.3,2.38)(96.35,1.71)(96.4,1.23)(96.55,2.19)
(97.2,1.98)(97.25,1.84)(97.3,2.11)(97.35,2.24)(97.4,2.05)(97.5,1.9)(97.55,1.84)(97.6,1.98)(97.7,1.71)(97.75,1.56)(97.8,2.45)(97.85,2.32)(97.9,1.64)(98.0,2.05)(98.1,1.98)(98.15,1.9)
(98.2,1.71)(98.25,2.24)(98.3,2.19)(98.35,1.37)(98.5,2.24)(98.6,2.32)(98.7,2.58)(98.75,1.84)(98.8,2.38)(98.9,1.77)(99.0,1.5)(99.05,2.98)(99.1,2.45)(99.2,2.11)(99.3,1.9)(99.35,2.19)
(99.4,2.05)(99.5,1.43)(99.55,1.3)(99.6,1.5)(99.7,1.77)(99.8,1.84)(99.9,1.98)(100.0,2.45)(100.05,1.98)(100.1,2.32)(100.2,1.9)(100.3,2.05)(100.4,1.77)(100.5,1.98)(100.6,1.9)(100.7,1.98)
(100.9,2.11)(101.0,2.11)(101.1,1.9)(101.2,2.19)(101.3,2.11)(101.4,2.19)(101.5,2.11)(101.6,2.19)(101.7,2.11)(101.8,1.98)(101.9,1.9)(102.0,1.84)(102.1,2.26)(102.15,2.32)(102.2,2.98)
(102.3,2.11)(102.4,1.9)(102.5,1.84)(102.6,1.9)(102.7,2.05)(102.8,1.98)(102.9,1.9)(103.0,1.84)(103.1,2.05)(103.2,2.11)(103.3,2.19)(103.4,1.98)(103.5,2.05)(103.6,2.11)(103.7,2.05)
(103.8,1.98)(103.9,2.05)(104.0,2.11)(104.1,2.19)(104.2,2.11)(104.3,2.05)(104.4,2.11)(104.5,1.98)(104.6,2.32)(104.7,1.84)(104.8,2.24)(104.9,2.19)(105.0,1.98)(105.1,2.05)(105.2,1.98)
(105.3,1.9)(105.4,2.19)(105.5,2.05)(105.6,1.9)(105.7,1.84)(105.8,2.72)(105.85,2.38)(105.9,2.05)(106.0,2.19)(106.1,2.11)(106.2,2.58)(106.25,2.51)(106.3,2.32)(106.4,2.24)(106.5,2.19)
(106.6,2.32)(106.7,1.9)(106.75,1.43)(106.8,1.23)(106.9,1.71)(107.0,2.05)(107.05,2.39)(107.2,1.9)(107.3,1.98)(107.4,2.05)(107.5,2.11)(107.6,1.77)(107.7,1.64)(107.75,1.9)(107.8,2.05)
(107.9,1.98)(108.0,1.98)(108.1,2.0)(108.2,1.9)(108.3,1.98)(108.4,1.98)(108.5,1.77)(108.6,2.05)(108.7,2.11)(108.8,2.24)(108.9,2.19)(108.95,1.17)(109.0,1.05)(109.1,1.98)(109.2,2.05)
(109.3,1.98)(109.4,2.05)(109.5,2.11)(109.6,1.98)(109.7,2.05)(109.8,2.11)(109.9,2.05)(110.0,2.05)(110.1,2.38)(110.2,2.24)(110.25,2.51)(110.3,1.56)(110.35,2.43)(110.4,2.32)(110.5,2.32)
(110.6,2.11)(110.7,1.98)(110.75,2.38)(110.8,1.71)(110.9,1.43)(111.0,2.11)(111.05,1.98)(111.1,2.38)(111.2,2.11)(111.3,1.43)(111.4,1.96)(111.45,2.43)(111.5,2.32)(111.6,2.98)(111.7,1.64)
(111.8,1.98)(111.9,2.19)(112.0,1.9)(112.1,2.05)(112.2,1.23)(112.25,1.77)(112.3,1.84)(112.4,1.9)(112.5,2.05)(112.6,1.77)(112.7,1.71)(112.75,1.56)(112.8,1.98)(112.9,2.19)(113.0,2.05)
(113.1,2.19)(113.2,2.24)(113.3,2.19)(113.4,2.11)(113.5,2.05)(113.6,1.9)(113.7,2.11)(113.8,1.98)(113.9,1.77)(114.0,2.05)(114.1,2.32)(114.15,2.64)(114.2,1.84)(114.3,1.98)(114.4,2.11)
(114.5,1.98)(114.6,1.9)(114.7,2.05)(114.8,2.11)(114.9,2.19)(115.0,2.05)(115.1,2.11)(115.2,2.19)(115.3,1.98)(115.4,2.11)(115.5,1.9)(115.6,1.71)(115.7,2.32)(115.8,2.05)(115.9,2.19)
(116.0,2.11)(116.1,1.98)(116.2,2.24)(116.3,2.19)(116.4,2.11)(116.5,2.05)(116.6,2.19)(116.7,1.9)(116.8,1.64)(116.9,2.11)(117.0,1.77)(117.1,2.11)(117.2,2.24)(117.3,2.05)(117.4,1.84)
(117.5,2.11)(117.6,2.19)(117.7,1.45)(117.8,1.98)(117.9,2.11)(118.0,2.19)(118.1,2.19)(118.2,2.11)(118.3,2.72)(118.35,2.32)(118.4,2.85)(118.5,1.9)(118.6,1.98)(118.7,1.5)(118.8,2.05)
(118.85,2.24)(118.9,1.71)(119.0,2.05)(119.1,2.11)(119.2,2.05)(119.3,2.19)(119.4,2.05)(119.5,2.11)(119.6,2.05)(119.7,2.19)(119.8,1.84)(119.9,1.9)(120.0,1.98)(120.1,2.05)(120.2,2.24)
(120.3,2.11)(120.4,2.05)(120.5,1.98)(120.6,1.9)(120.7,1.84)(120.8,1.98)(120.9,2.05)(121.0,2.11)(121.1,1.98)(121.2,2.05)(121.3,1.64)(121.4,1.98)(121.5,2.11)(121.6,2.05)(121.7,2.19)
(121.8,2.11)(121.9,2.05)(122.0,2.19)(122.1,2.24)(122.2,2.32)(122.3,2.38)(122.4,2.45)(122.45,2.51)(122.5,2.85)(122.6,1.98)(122.7,1.24)(122.75,1.9)(122.8,2.19)(122.9,2.05)(123.0,1.98)
(123.3,2.19)(123.4,2.38)(123.5,2.98)(123.55,1.17)(123.6,2.11)(123.65,2.24)(123.7,1.64)(123.8,2.45)(123.9,2.45)(124.1,2.38)(124.3,2.11)(124.4,2.05)(124.5,1.98)(124.6,2.05)(124.7,1.98)
(124.8,1.9)(124.9,1.98)(125.0,2.05)(125.1,1.98)(125.2,2.05)(125.3,2.11)(125.4,2.92)(125.45,2.19)(125.5,2.11)(125.6,2.19)(125.7,2.11)(125.8,2.19)(125.9,2.11)(126.0,2.19)(126.1,2.24)
(126.2,2.19)(126.3,2.11)(126.4,2.24)(126.5,2.19)(126.6,2.24)(126.7,2.19)(126.8,2.11)(126.9,2.19)(127.0,2.11)(127.1,2.19)(127.2,2.11)(127.3,2.05)(127.4,2.11)(127.5,2.05)(127.6,2.11)
(127.7,2.05)(127.8,2.11)(127.9,2.05)(128.0,2.11)(128.1,2.05)(128.2,2.11)(128.3,2.19)(128.4,2.11)(128.5,2.19)(128.6,2.24)(128.7,2.05)(128.8,2.19)(128.9,2.24)(129.0,2.24)(129.1,2.19)
(129.2,2.24)(129.3,2.24)(129.4,2.19)(129.5,2.32)(129.6,2.24)(129.7,2.11)(129.8,2.05)(129.9,2.11)(130.0,2.11)(130.1,2.19)(130.2,2.11)(130.3,2.05)(130.4,2.11)(130.5,2.19)(130.6,2.05)
(130.7,2.11)(130.8,2.19)(130.9,2.11)(131.0,2.19)(131.1,2.24)(131.2,2.32)(131.3,2.45)(131.4,2.39)(131.5,2.38)(131.6,2.34)
};
\end{axis}
\end{tikzpicture}
\end{document}
